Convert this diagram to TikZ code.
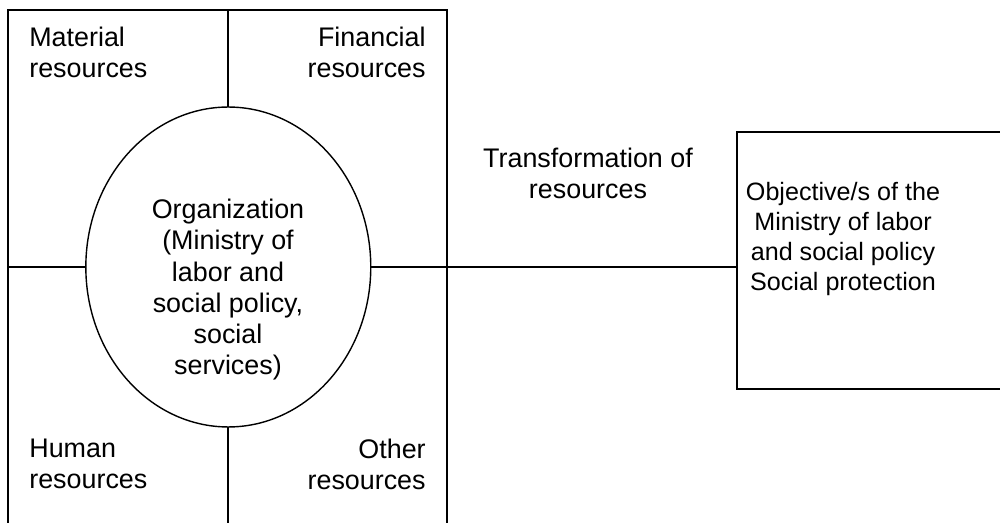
\documentclass[tikz,border=0pt]{standalone}
\usepackage{fontspec}
\setmainfont{Liberation Sans}
\usetikzlibrary{shapes.geometric, positioning}

\begin{document}
\begin{tikzpicture}[
x=0.02cm, y=-0.02cm,
frame/.style={line width=1.3pt},
txt/.style={inner sep=0pt, font=\fontsize{15.3}{17.7}\selectfont},
smalltxt/.style={inner sep=0pt, font=\fontsize{14.3}{17.1}\selectfont},
orgbox/.style={draw,
ellipse,
line width=0.8pt,
minimum width=5.7cm,
minimum height=6.4cm,
inner sep=0pt, outer sep=0pt},
goalbox/.style={draw,
rectangle,
line width=0.8pt,
minimum width=6cm,
minimum height=5.14cm,
anchor=north west, outer sep=0pt},
link/.style={line width=0.7pt}
]

\clip (0,0) rectangle (1000,523);

\coordinate (fnw) at (8,10);
\coordinate (fne) at (447,10);
\coordinate (fsw) at (8,540);
\coordinate (fse) at (447,540);
\coordinate (ftop) at (228.3,10);
\coordinate (fbot) at (228.3,540);
\coordinate (fleft) at (8,267);
\coordinate (fright) at (447,267);

\node[orgbox] (org) at (228.3,267) {};
\node[goalbox] (goal) at (737,132) {};

\node[txt, anchor=north west, align=left] (material) at (29,27) {Material\\resources};
\node[txt, anchor=north east, align=right] (financial) at (426,27) {Financial\\resources};
\node[txt, anchor=north west, align=left] (human) at (29,439) {Human\\resources};
\node[txt, anchor=north east, align=right] (other) at (426,439) {Other\\resources};
\node[txt, anchor=north, align=center] (orgtext) at (228,199) {Organization\\(Ministry of\\labor and\\social policy,\\social\\services)};
\node[txt, anchor=north, align=center] (transform) at (588,148) {Transformation of\\resources};
\node[smalltxt, anchor=north, align=center] (goaltext) at (843,182) {Objective/s of the\\Ministry of labor\\and social policy\\Social protection};

\draw[frame] (fsw) -- (fnw) -- (fne) -- (fse);
\draw[frame] (ftop) -- (org.north);
\draw[frame] (org.south) -- (fbot);
\draw[frame] (fleft) -- (org.west);
\draw[frame] (org.east) -- (fright);
\draw[link] (fright) -- (fright -| goal.west);

\end{tikzpicture}
\end{document}
